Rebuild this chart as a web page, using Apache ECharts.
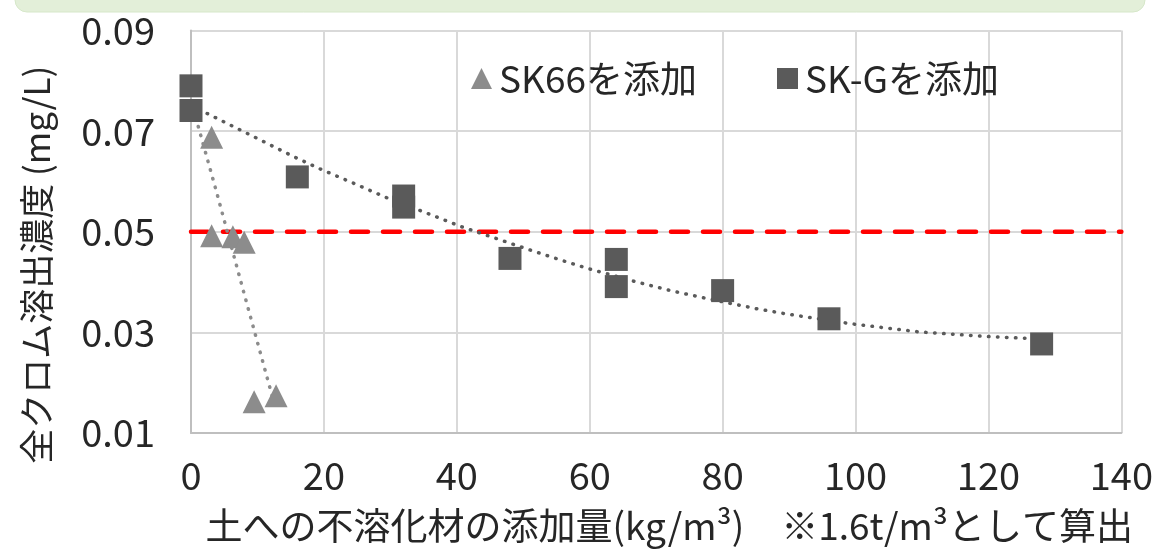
<!DOCTYPE html>
<html>
<head>
<meta charset="utf-8">
<script src="https://cdn.jsdelivr.net/npm/echarts@6/dist/echarts.min.js"></script>
<style>
  html, body { margin: 0; padding: 0; background: #fff; }
  #chart { width: 1156px; height: 549px; }
</style>
</head>
<body>
<div id="chart"></div>
<script>
// データ
var sk66Points = [[3.1, 0.0688], [3.1, 0.0492], [6.3, 0.0490], [8.0, 0.0479], [9.5, 0.0162], [12.8, 0.0174]];
var skgPoints = [[0, 0.0790], [0, 0.0741], [16, 0.0609], [32, 0.0571], [32, 0.0549], [48, 0.0447],
  [64, 0.0445], [64, 0.0391], [80, 0.0383], [96, 0.0327], [128, 0.0277]];
// 近似曲線 (点線)
var sk66Trend = [[0, 0.0761], [3.76, 0.0583], [7.87, 0.0383], [12.7, 0.0150]];
var skgTrend = [[0, 0.0751], [2.6, 0.0734], [15.5, 0.0649], [19.4, 0.0625], [24.7, 0.0595], [29.9, 0.0565],
  [35.3, 0.0538], [40.7, 0.0510], [50.3, 0.0467], [55.8, 0.0443], [60, 0.0426], [66.8, 0.0401],
  [72.5, 0.0382], [78.1, 0.0366], [85.1, 0.0347], [89.4, 0.0337], [99.4, 0.0317], [109.5, 0.0301],
  [119.5, 0.0292], [126, 0.0288]];
// 基準値
var limitLine = [[0, 0.05], [140, 0.05]];
var seriesNames = ['SK66を添加', 'SK-Gを添加'];
var xTitle = '土への不溶化材の添加量(kg/m³)　※1.6t/m³として算出';
var yTitle = '全クロム溶出濃度 (mg/L)';

var cFont = 'Noto Sans CJK JP';

var oChart = echarts.init(document.getElementById('chart'));

var oOpt = {
  animation: false,
  textStyle: { fontFamily: cFont },
  graphic: [{
    type: 'rect',
    shape: { x: 15, y: -24, width: 1130, height: 36, r: 12 },
    style: { fill: '#e3efd9', stroke: '#d6e7c9', lineWidth: 1 },
    silent: true
  }],
  grid: { left: 191, right: 34, top: 30.5, bottom: 116 },
  legend: {
    left: 466,
    top: 55,
    itemGap: 80,
    itemWidth: 21,
    itemHeight: 21,
    textStyle: { fontSize: 37, color: '#262626', fontFamily: cFont, padding: [0, 0, 0, 2] },
    data: [
      { name: seriesNames[0], icon: 'triangle', itemStyle: { color: '#8c8c8c' } },
      { name: seriesNames[1], icon: 'rect', itemStyle: { color: '#5a5a5a' } }
    ]
  },
  xAxis: {
    type: 'value',
    min: 0,
    max: 140,
    interval: 20,
    name: xTitle,
    nameLocation: 'middle',
    nameGap: 74,
    nameTextStyle: { fontSize: 37, color: '#262626', padding: [0, 0, 0, 26] },
    axisLine: { show: true, lineStyle: { color: '#bfbfbf', width: 2 } },
    axisTick: { show: false },
    axisLabel: { fontSize: 38, color: '#262626', margin: 24 },
    splitLine: { show: true, lineStyle: { color: '#d9d9d9', width: 2 } }
  },
  yAxis: {
    type: 'value',
    min: 0.01,
    max: 0.09,
    interval: 0.02,
    name: yTitle,
    nameLocation: 'middle',
    nameGap: 137,
    nameTextStyle: { fontSize: 35, color: '#262626', padding: [0, 66, 0, 0] },
    axisLine: { show: true, lineStyle: { color: '#bfbfbf', width: 2 } },
    axisTick: { show: false },
    axisLabel: {
      fontSize: 38,
      color: '#262626',
      margin: 36,
      formatter: function (v) { return v.toFixed(2); }
    },
    splitLine: { show: true, lineStyle: { color: '#d9d9d9', width: 2 } }
  },
  series: [
    {
      name: 'limit',
      type: 'line',
      data: limitLine,
      showSymbol: false,
      silent: true,
      z: 1,
      lineStyle: { color: '#ff0000', width: 4.5, type: [17, 15], cap: 'round' }
    },
    {
      name: 'sk66trend',
      type: 'line',
      data: sk66Trend,
      showSymbol: false,
      silent: true,
      z: 2,
      lineStyle: { color: '#8c8c8c', width: 3.5, type: [0.5, 8.5], cap: 'round' }
    },
    {
      name: 'skgtrend',
      type: 'line',
      data: skgTrend,
      showSymbol: false,
      silent: true,
      z: 2,
      lineStyle: { color: '#5a5a5a', width: 3.5, type: [0.5, 8.5], cap: 'round' }
    },
    {
      name: seriesNames[0],
      type: 'scatter',
      data: sk66Points,
      symbol: 'triangle',
      symbolSize: 23,
      z: 3,
      itemStyle: { color: '#8c8c8c', opacity: 1 }
    },
    {
      name: seriesNames[1],
      type: 'scatter',
      data: skgPoints,
      symbol: 'rect',
      symbolSize: 23,
      z: 3,
      itemStyle: { color: '#5a5a5a', opacity: 1 }
    }
  ]
};

oChart.setOption(oOpt);
</script>
</body>
</html>
